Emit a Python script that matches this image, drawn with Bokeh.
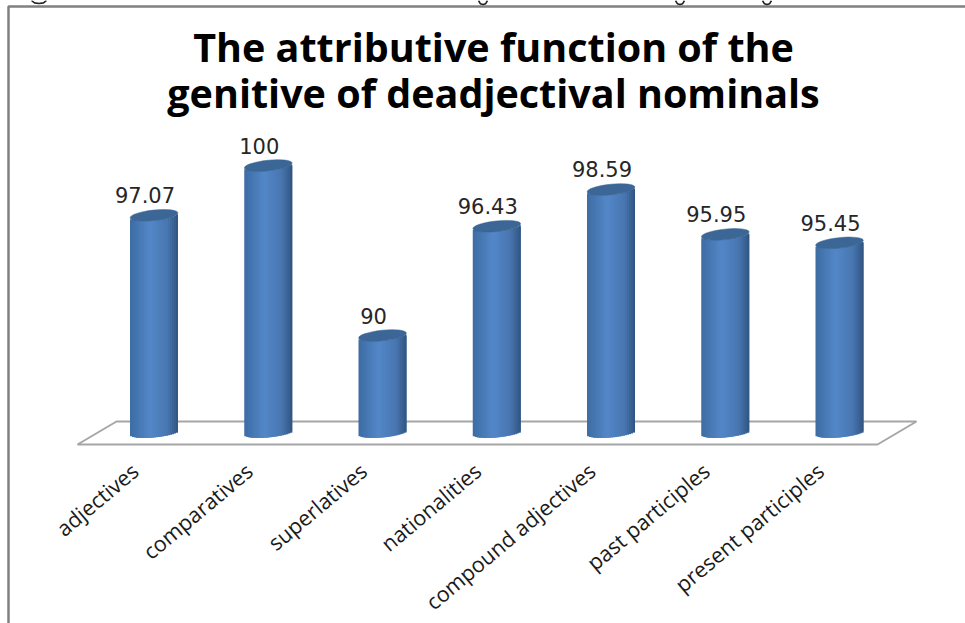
import math
from bokeh.plotting import figure
from bokeh.embed import file_html
from bokeh.resources import INLINE
from bokeh.core.properties import value
from bokeh.models import Range1d

categories = ["adjectives", "comparatives", "superlatives", "nationalities",
              "compound adjectives", "past participles", "present participles"]
values = [97.07, 100, 90, 96.43, 98.59, 95.95, 95.45]
labels = ["97.07", "100", "90", "96.43", "98.59", "95.95", "95.45"]
title_lines = ["The attributive function of the", "genitive of deadjectival nominals"]

W, H = 965, 623
X0, DX = 153.5, 114.25     # pixel centre of first category, spacing
Y100, PPU = 165.0, 17.0    # pixel row of value 100, pixels per unit
BASE = 84.3                # value at which the cylinders stand

def vx(px): return (px - X0) / DX
def vy(py): return 100 - (py - Y100) / PPU

p = figure(width=W, height=H, output_backend="svg", toolbar_location=None,
           x_range=Range1d(vx(0), vx(W)), y_range=Range1d(vy(H), vy(0)),
           min_border=0, min_border_left=0, min_border_right=0, min_border_top=0, min_border_bottom=0)
p.styles = {"margin": "0"}
p.axis.visible = False
p.grid.visible = False
p.outline_line_color = None
p.background_fill_color = "white"
p.border_fill_color = "white"

# frame of the scanned figure
p.line([vx(8), vx(8), vx(W)], [vy(H), vy(6), vy(6)], line_color="#808080", line_width=2.5)

# ink left over from the caption that the scan's top edge cuts away (no legible text remains)
hooks = [(31, 46, 3), (478, 487, 4), (675, 684, 4), (762, 771, 4)]
hx, hy = [], []
for x0, x1, depth in hooks:
    hx.append([vx(x0 + (x1 - x0) * f) for f in (0, 0.2, 0.5, 0.8, 1)])
    hy.append([vy(d * depth) for d in (0, 0.8, 1, 0.8, 0)])
p.multi_line(hx, hy, line_color="#222222", line_width=1.6)

# floor of the 3-D plot
p.patch([vx(77), vx(116), vx(916), vx(877)], [vy(444), vy(421), vy(421), vy(444)],
        fill_color="white", line_color="#a6a6a6", line_width=2)

# shaded cylinders built from narrow strips
stops = [(0.0, (62, 108, 163)), (0.42, (83, 135, 200)), (0.78, (72, 118, 176)), (1.0, (48, 84, 128))]
def shade(u):
    for (a, ca), (b, cb) in zip(stops, stops[1:]):
        if u <= b:
            f = (u - a) / (b - a)
            return "#%02x%02x%02x" % tuple(round(ca[k] + (cb[k] - ca[k]) * f) for k in range(3))
    return "#30547f"

half = 24 / DX
n = 24
l, r, t, b, c = [], [], [], [], []
for i, v in enumerate(values):
    for j in range(n):
        u0, u1 = j / n, min(1.0, (j + 2) / n)
        um = (j + 0.5) / n
        s = 2 * um - 1
        edge = (2.5 * s - 5 * math.sqrt(max(0, 1 - s * s))) / PPU
        l.append(i - half + 2 * half * u0)
        r.append(i - half + 2 * half * u1)
        t.append(v + edge)
        b.append(BASE + edge)
        c.append(shade(um))
p.quad(left=l, right=r, top=t, bottom=b, fill_color=c, line_color=None)

idx = list(range(len(values)))
p.ellipse(x=idx, y=values, width=48, height=10.5, width_units="screen", height_units="screen",
          angle=0.105, fill_color="#3b6696", line_color="#3b6696", line_width=0.5)

# data labels
p.text(x=idx, y=values, text=labels, text_font=value("DejaVu Sans"), text_font_size="21px",
       text_color="#262626", text_align="center", text_baseline="alphabetic",
       x_offset=-9, y_offset=-20)

# category labels
p.text(x=[i - 19 / DX for i in idx], y=[vy(467)] * len(idx), text=categories,
       text_font=value("Open Sans"), text_font_size="21.5px", text_color="#1a1a1a",
       text_align="right", text_baseline="middle", angle=math.radians(40))

# title
p.text(x=[vx(493)] * 2, y=[vy(46.5), vy(92.5)], text=title_lines, text_font=value("Open Sans"),
       text_font_style="bold", text_font_size="39.5px", text_color="#000000",
       text_align="center", text_baseline="alphabetic")

open("out.html", "w").write(file_html(p, INLINE))
